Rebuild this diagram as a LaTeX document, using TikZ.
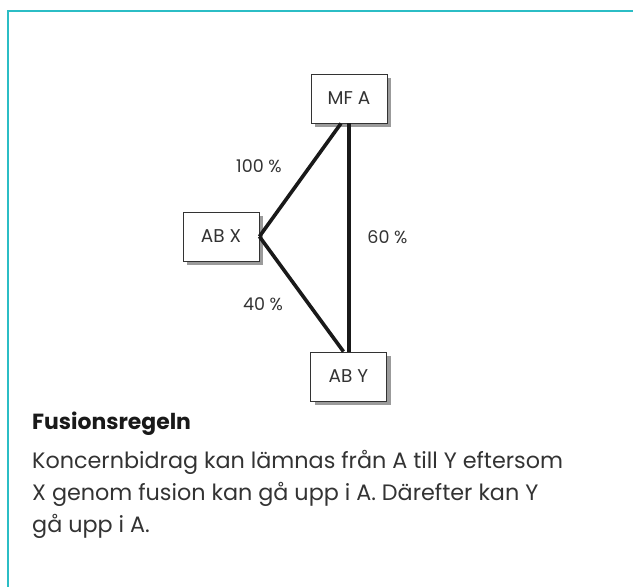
\documentclass[tikz,border=0pt]{standalone}
\usepackage{fontspec}
\setmainfont{Poppins}
\usepackage{tikz}
\usetikzlibrary{shadows}

\definecolor{frameteal}{HTML}{2BBDC5}
\definecolor{textgray}{HTML}{333333}
\definecolor{shadowgray}{HTML}{9B9B9B}

\tikzset{
	company/.style={rectangle, draw=textgray, fill=white, line width=0.8pt, minimum width=76pt, minimum height=49pt, inner sep=0pt, font=\fontsize{18.5}{22}\selectfont, text=textgray, drop shadow={shadow xshift=4pt, shadow yshift=-4pt, fill=shadowgray, opacity=1}},
	share/.style={font=\fontsize{17.5}{21}\selectfont, text=textgray},
	bodyline/.style={anchor=base west, text=textgray, font=\fontsize{22.3}{25}\selectfont, inner sep=0pt},
	owns/.style={line width=3.6pt, draw=black!90}
}

\begin{document}
\begin{tikzpicture}[x=1pt, y=-1pt]
		
		\useasboundingbox (0,0) rectangle (633,587);
		
		% Frame
		\draw[frameteal, line width=2pt] (8.3,587) -- (8.3,11) -- (633,11);
		
		% Node
		
		\node[company]        					   
		(MFA) at (349,98.5) {MF A};
		\node[company]        					   
		(ABX) at (221,236.5) {AB X};
		\node[company]        					   
		(ABY) at (348.5,376.5) {AB Y};
		
		% EDGE
		
		\draw[owns] (ABX.east) -- ([xshift=-8pt]MFA.south);
		\draw[owns] (ABX.east) -- ([xshift=-5pt]ABY.north);
		\draw[owns] (MFA.south) -- (MFA.south |- ABY.north);
		
		% Labels
		
		\node[share] (lbl100) at (259,166) {100 \%};
		\node[share] (lbl60) at (387.5,237) {60 \%};
		\node[share] (lbl40) at (263,304) {40 \%};
		
		\node[anchor=base west, text=black!90, font=\fontsize{21.9}{25}\selectfont\bfseries, inner sep=0pt]
		(title) at (32,429) {Fusionsregeln};
		
		\node[bodyline] (body1) at (32,468) {Koncernbidrag kan lämnas från A till Y eftersom};
		\node[bodyline] (body2) at (32,500) {X genom fusion kan gå upp i A. Därefter kan Y};
		\node[bodyline] (body3) at (32,532) {gå upp i A.};
		
	\end{tikzpicture}
\end{document}
